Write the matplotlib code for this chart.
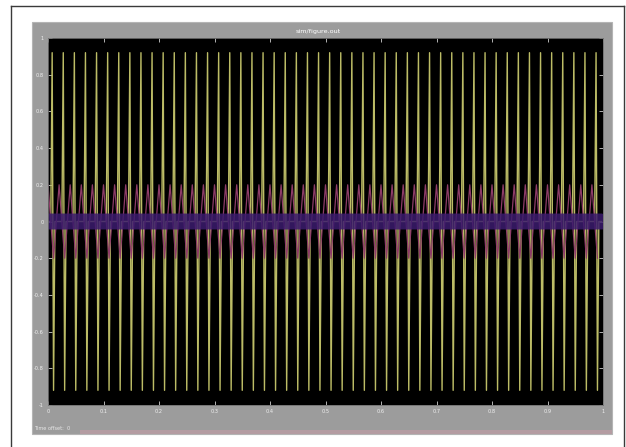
import numpy as np
import matplotlib.pyplot as plt
from matplotlib.patches import Rectangle
from matplotlib.lines import Line2D

W, H = 626, 447

# scope traces: one sampled cycle of each channel, repeated over the run
n_cycles = 50
yellow_cycle = [0.0, 0.0, 0.0, 0.92, -0.92, 0.0, 0.0, 0.0]
pink_cycle = [0.20, -0.20]
blue_cycle = [0.04, 0.0, -0.04, 0.0]

x_ticks = [0, 0.1, 0.2, 0.3, 0.4, 0.5, 0.6, 0.7, 0.8, 0.9, 1]
x_labels = ['0', '0.1', '0.2', '0.3', '0.4', '0.5', '0.6', '0.7', '0.8', '0.9', '1']
y_ticks = [-1, -0.8, -0.6, -0.4, -0.2, 0, 0.2, 0.4, 0.6, 0.8, 1]
y_labels = ['-1', '-0.8', '-0.6', '-0.4', '-0.2', '0', '0.2', '0.4', '0.6', '0.8', '1']
title = 'sim/figure.out'
status = 'Time offset:  0'


def fx(px):
    return px / W


def fy(py):
    return 1 - py / H


fig = plt.figure(figsize=(W / 100, H / 100), dpi=100)
fig.patch.set_facecolor('white')

# outer frame (open at the bottom)
for xs, ys in [([11, 624], [6, 6]), ([11, 11], [6, 447]), ([624, 624], [6, 447])]:
    fig.add_artist(Line2D([fx(v) for v in xs], [fy(v) for v in ys],
                          color='#3a3a3a', lw=1.0, transform=fig.transFigure,
                          zorder=-2))

# grey scope window
fig.add_artist(Rectangle((fx(32), fy(434)), fx(612 - 32), (434 - 22) / H,
                         transform=fig.transFigure, facecolor='#9c9c9c',
                         edgecolor='#b4b4b4', lw=0.8, zorder=-2))
# status strip
fig.add_artist(Rectangle((fx(80), fy(434)), fx(612 - 80), 4 / H,
                         transform=fig.transFigure, facecolor='#b49ca2',
                         edgecolor='none', zorder=-1))
fig.text(fx(34), fy(428), status, color='#e8e8e8', fontsize=3.6,
         va='center', ha='left')

ax = fig.add_axes([fx(48), fy(405), fx(603 - 48), (405 - 38) / H])
ax.set_facecolor('black')

y_yel = np.tile(yellow_cycle, n_cycles)
y_pink = np.tile(pink_cycle, n_cycles)
y_blue = np.tile(blue_cycle, n_cycles * 12)
t = np.linspace(0, 1, len(y_yel), endpoint=False)
t_p = np.linspace(0, 1, len(y_pink), endpoint=False)
t_b = np.linspace(0, 1, len(y_blue), endpoint=False)

ax.plot(t, y_yel, color='#bcbc66', lw=1.0)
ax.plot(t_p, y_pink, color='#8e3c68', lw=0.9)
ax.plot(t_b, y_blue, color='#3c1c6e', lw=1.0, alpha=0.85)

ax.set_xlim(0, 1)
ax.set_ylim(-1, 1)
ax.set_xticks(x_ticks, x_labels)
ax.set_yticks(y_ticks, y_labels)
ax.tick_params(direction='in', length=3, width=0.6, color='#cfcfcf',
               labelcolor='#f0f0f0', labelsize=3.6, pad=3,
               top=True, right=True)
for sp in ax.spines.values():
    sp.set_color('#707070')
    sp.set_linewidth(0.6)

fig.text(fx(318), fy(31), title, color='white', fontsize=4.6,
         ha='center', va='center')

fig.savefig('out.png', dpi=100, facecolor=fig.get_facecolor())
